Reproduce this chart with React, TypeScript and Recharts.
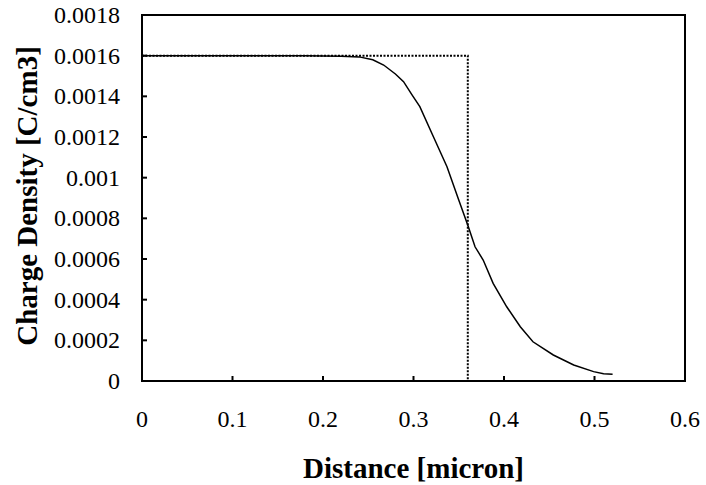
import React from 'react';
import { LineChart, Line, XAxis, YAxis, ReferenceArea } from 'recharts';

// measured curve: charge density vs distance
const curveX = [0, 0.1, 0.18, 0.2, 0.22, 0.24, 0.255, 0.267, 0.28, 0.289, 0.298, 0.307, 0.322, 0.337, 0.35, 0.3606, 0.368, 0.377, 0.388, 0.403, 0.418, 0.432, 0.4545, 0.477, 0.499, 0.51, 0.52];
const curveY = [0.0016, 0.0016, 0.0016, 0.001598, 0.001597, 0.001594, 0.00158, 0.001554, 0.00151, 0.001472, 0.00141, 0.001349, 0.001201, 0.001054, 0.00089, 0.000759, 0.00066, 0.000595, 0.00048, 0.000365, 0.000267, 0.000193, 0.000128, 0.000079, 0.000046, 0.000036, 0.000033];

// abrupt (box) profile
const boxX = [0, 0.36, 0.36];
const boxY = [0.0016, 0.0016, 0];

const xTicks = [0, 0.1, 0.2, 0.3, 0.4, 0.5, 0.6];
const xTickLabels = ['0', '0.1', '0.2', '0.3', '0.4', '0.5', '0.6'];
const yTicks = [0, 0.0002, 0.0004, 0.0006, 0.0008, 0.001, 0.0012, 0.0014, 0.0016, 0.0018];
const yTickLabels = ['0', '0.0002', '0.0004', '0.0006', '0.0008', '0.001', '0.0012', '0.0014', '0.0016', '0.0018'];

const curveData = curveX.map((x, i) => ({ x, y: curveY[i] }));
const boxData = boxX.map((x, i) => ({ x, y: boxY[i] }));

const FONT = '"Liberation Serif", "Times New Roman", serif';

const YTick = (props: any) => {
  const { x, y, payload } = props;
  const idx = yTicks.indexOf(payload.value);
  return (
    <g>
      <line x1={x + 22} x2={x + 27} y1={y} y2={y} stroke="#000" strokeWidth={2} />
      <text x={x} y={y + 8} textAnchor="end" fontFamily={FONT} fontSize={24} fill="#000">
        {idx >= 0 ? yTickLabels[idx] : payload.value}
      </text>
    </g>
  );
};

const XTick = (props: any) => {
  const { x, y, payload } = props;
  const idx = xTicks.indexOf(payload.value);
  return (
    <g>
      <line x1={x} x2={x} y1={y} y2={y - 5} stroke="#000" strokeWidth={2} />
      <text x={x} y={y + 46} textAnchor="middle" fontFamily={FONT} fontSize={24} fill="#000">
        {idx >= 0 ? xTickLabels[idx] : payload.value}
      </text>
    </g>
  );
};

export default function App() {
  return (
    <div style={{ position: 'absolute', left: 0, top: 0, background: '#fff' }}>
      <LineChart width={706} height={485} margin={{ top: 15, right: 21, bottom: 0, left: 0 }}>
        <XAxis
          type="number"
          dataKey="x"
          domain={[0, 0.6]}
          ticks={xTicks}
          interval={0}
          height={104}
          tickSize={0}
          tickMargin={0}
          tickLine={false}
          axisLine={{ stroke: '#000', strokeWidth: 2 }}
          tick={(p: any) => <XTick {...p} />}
          label={{
            content: (p: any) => {
              const vb = p.viewBox || {};
              return (
                <text x={vb.x + vb.width / 2} y={478} textAnchor="middle" fontFamily={FONT} fontSize={29} fontWeight="bold" fill="#000">
                  Distance [micron]
                </text>
              );
            },
          }}
        />
        <YAxis
          type="number"
          dataKey="y"
          domain={[0, 0.0018]}
          ticks={yTicks}
          interval={0}
          width={142}
          tickSize={0}
          tickMargin={22}
          tickLine={false}
          axisLine={{ stroke: '#000', strokeWidth: 2 }}
          tick={(p: any) => <YTick {...p} />}
          label={{
            content: (p: any) => {
              const vb = p.viewBox || {};
              const cy = vb.y + vb.height / 2 - 2;
              return (
                <text transform={`translate(37, ${cy}) rotate(-90)`} textAnchor="middle" fontFamily={FONT} fontSize={29} fontWeight="bold" fill="#000">
                  Charge Density [C/cm3]
                </text>
              );
            },
          }}
        />
        <ReferenceArea x1={0} x2={0.6} y1={0} y2={0.0018} fill="none" stroke="#000" strokeWidth={2} ifOverflow="visible" />
        <Line data={boxData} dataKey="y" type="linear" stroke="#000" strokeWidth={2} strokeDasharray="2 1.5" dot={false} isAnimationActive={false} />
        <Line data={curveData} dataKey="y" type="linear" stroke="#000" strokeWidth={1.5} dot={false} isAnimationActive={false} />
      </LineChart>
    </div>
  );
}
